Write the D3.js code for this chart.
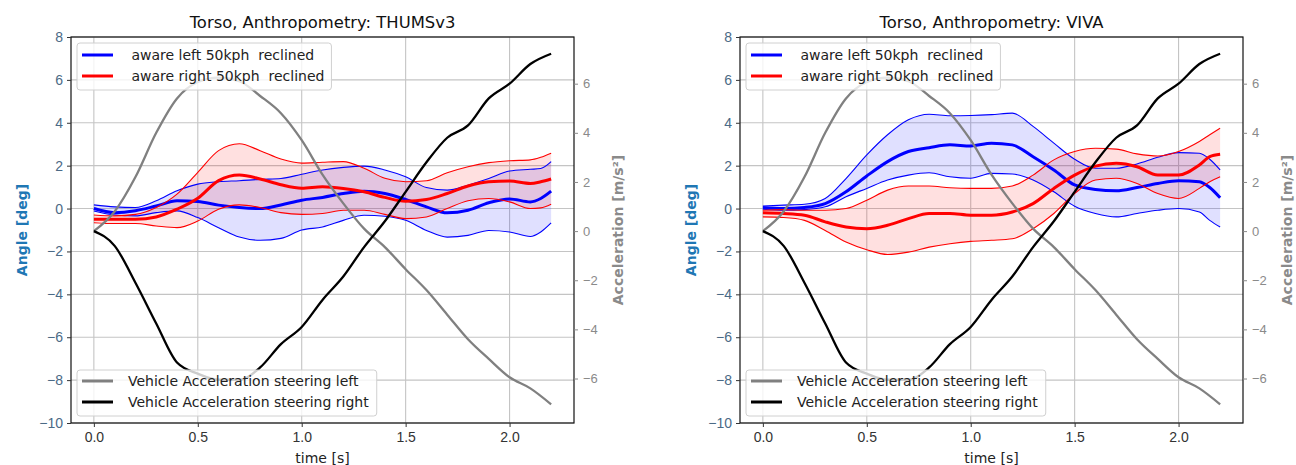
<!DOCTYPE html>
<html>
<head>
<meta charset="utf-8">
<script src="https://cdn.jsdelivr.net/npm/d3@7"></script>
<style>
  body { margin: 0; background: #fff; }
  svg { font-family: "DejaVu Sans", sans-serif; }
</style>
</head>
<body>
<svg width="1296" height="465"></svg>
<script>
// time base of the angle curves [s]
const time = [0, 0.1, 0.2, 0.3, 0.4, 0.5, 0.6, 0.7, 0.8, 0.9, 1.0, 1.1, 1.2, 1.3, 1.4, 1.5, 1.6, 1.7, 1.8, 1.9, 2.0, 2.1, 2.15, 2.2];

// THUMSv3 torso angle [deg]
const thumsLeftMean  = [0.0, -0.19, -0.1, 0.12, 0.36, 0.33, 0.16, 0.05, 0.0, 0.17, 0.39, 0.52, 0.7, 0.81, 0.7, 0.42, 0.08, -0.2, -0.08, 0.27, 0.45, 0.31, 0.47, 0.81];
const thumsLeftUp    = [0.17, 0.08, 0.05, 0.36, 0.83, 1.14, 1.25, 1.3, 1.36, 1.4, 1.6, 1.8, 1.92, 1.98, 1.8, 1.48, 0.98, 0.86, 1.09, 1.4, 1.75, 1.83, 1.87, 2.19];
const thumsLeftLo    = [-0.11, -0.3, -0.34, -0.19, -0.11, -0.42, -0.89, -1.33, -1.48, -1.39, -1.0, -0.86, -0.55, -0.31, -0.36, -0.55, -1.02, -1.33, -1.25, -1.02, -1.09, -1.3, -1.09, -0.67];
const thumsRightMean = [-0.5, -0.5, -0.5, -0.39, -0.03, 0.48, 1.3, 1.56, 1.38, 1.11, 0.95, 1.02, 0.94, 0.78, 0.52, 0.34, 0.42, 0.7, 1.05, 1.25, 1.28, 1.17, 1.25, 1.38];
const thumsRightUp   = [-0.3, -0.34, -0.27, 0.05, 0.67, 1.69, 2.7, 3.02, 2.7, 2.31, 2.12, 2.16, 2.19, 1.88, 1.41, 1.25, 1.3, 1.67, 1.95, 2.14, 2.23, 2.27, 2.39, 2.58];
const thumsRightLo   = [-0.66, -0.7, -0.7, -0.81, -0.89, -0.58, -0.03, 0.17, 0.05, -0.19, -0.27, -0.23, -0.08, -0.08, -0.27, -0.47, -0.39, 0.0, 0.36, 0.47, 0.31, 0.0, 0.03, 0.2];

// VIVA torso angle [deg]
const vivaLeftMean  = [0.05, 0.0, 0.05, 0.23, 0.78, 1.52, 2.19, 2.66, 2.84, 2.97, 2.92, 3.05, 2.97, 2.42, 1.8, 1.1, 0.89, 0.83, 0.98, 1.17, 1.3, 1.25, 0.98, 0.5];
const vivaLeftUp    = [0.12, 0.16, 0.2, 0.47, 1.4, 2.5, 3.44, 4.14, 4.4, 4.33, 4.34, 4.38, 4.45, 3.83, 3.05, 2.3, 1.88, 1.88, 2.08, 2.39, 2.61, 2.58, 2.3, 1.8];
const vivaLeftLo    = [-0.03, -0.08, -0.05, 0.08, 0.55, 0.94, 1.33, 1.56, 1.67, 1.48, 1.41, 1.64, 1.61, 1.33, 0.78, 0.11, -0.23, -0.39, -0.23, -0.08, 0.0, -0.16, -0.55, -0.86];
const vivaRightMean = [-0.2, -0.23, -0.31, -0.62, -0.86, -0.94, -0.78, -0.47, -0.23, -0.23, -0.31, -0.31, -0.16, 0.23, 0.94, 1.56, 1.98, 2.11, 1.95, 1.56, 1.56, 2.03, 2.42, 2.53];
const vivaRightUp   = [-0.08, -0.05, -0.08, -0.08, 0.0, 0.39, 0.86, 1.05, 1.05, 0.97, 0.94, 0.94, 1.05, 1.56, 2.27, 2.66, 2.81, 2.77, 2.55, 2.45, 2.66, 3.13, 3.44, 3.75];
const vivaRightLo   = [-0.39, -0.42, -0.55, -1.02, -1.56, -1.92, -2.14, -2.03, -1.8, -1.64, -1.53, -1.48, -1.41, -0.94, -0.23, 0.7, 1.33, 1.41, 1.17, 0.7, 0.47, 0.94, 1.25, 1.48];

// vehicle acceleration [m/s^2]
const accTime  = [0, 0.1, 0.2, 0.3, 0.4, 0.5, 0.6, 0.7, 0.8, 0.9, 1.0, 1.1, 1.2, 1.3, 1.4, 1.5, 1.6, 1.7, 1.8, 1.9, 2.0, 2.1, 2.2];
const accLeft  = [0, 0.8, 2.2, 4.0, 5.4, 6.07, 6.25, 6.1, 5.5, 4.8, 3.7, 2.3, 1.13, 0.1, -0.65, -1.55, -2.4, -3.4, -4.4, -5.2, -5.95, -6.4, -7.05];
const accRight = [0, -0.6, -2.1, -3.76, -5.35, -5.8, -6.05, -6.05, -5.55, -4.6, -3.9, -2.8, -1.85, -0.65, 0.4, 1.6, 2.8, 3.8, 4.3, 5.4, 6.0, 6.8, 7.22];

// ticks
const timeTicks  = [0, 0.5, 1.0, 1.5, 2.0];
const angleTicks = [8, 6, 4, 2, 0, -2, -4, -6, -8, -10];
const accTicks   = [6, 4, 2, 0, -2, -4, -6];

const angleLegend = [' aware left 50kph  reclined', ' aware right 50kph  reclined'];
const accLegend = ['Vehicle Acceleration steering left', 'Vehicle Acceleration steering right'];

let svg = d3.select('svg');

let plotTop = 37;
let plotWidth = 503;
let plotHeight = 386;

let xScale = d3.scaleLinear().domain([-0.11, 2.31]).range([0, plotWidth]);
let yScale = d3.scaleLinear().domain([-10, 8]).range([plotHeight, 0]);
let y2Scale = d3.scaleLinear().domain([-7.81, 7.9]).range([plotHeight, 0]);

function drawPanel(left, title, blueMean, blueUp, blueLo, redMean, redUp, redLo, clipId) {
  let g = svg.append('g').attr('transform', `translate(${left},${plotTop})`);

  svg.append('clipPath').attr('id', clipId)
    .append('rect').attr('width', plotWidth).attr('height', plotHeight);

  // grid
  g.append('g').selectAll('line.gx').data(timeTicks).enter().append('line')
    .attr('x1', d => xScale(d)).attr('x2', d => xScale(d))
    .attr('y1', 0).attr('y2', plotHeight)
    .attr('stroke', '#c4c4c4').attr('stroke-width', 1.1);
  g.append('g').selectAll('line.gy').data(angleTicks).enter().append('line')
    .attr('x1', 0).attr('x2', plotWidth)
    .attr('y1', d => yScale(d)).attr('y2', d => yScale(d))
    .attr('stroke', '#c4c4c4').attr('stroke-width', 1.1);

  let body = g.append('g').attr('clip-path', `url(#${clipId})`);

  let area = (lo, up) => d3.area()
    .x((d, i) => xScale(time[i]))
    .y0((d, i) => yScale(lo[i]))
    .y1((d, i) => yScale(up[i]))
    .curve(d3.curveMonotoneX)(time);
  let line = vals => d3.line()
    .x((d, i) => xScale(time[i]))
    .y(d => yScale(d))
    .curve(d3.curveMonotoneX)(vals);

  body.append('path').attr('d', area(blueLo, blueUp)).attr('fill', 'blue').attr('fill-opacity', 0.12);
  body.append('path').attr('d', area(redLo, redUp)).attr('fill', 'red').attr('fill-opacity', 0.12);

  [[blueUp, 'blue', 1.1], [blueLo, 'blue', 1.1], [blueMean, 'blue', 3],
   [redUp, 'red', 1.1], [redLo, 'red', 1.1], [redMean, 'red', 3]].forEach(([vals, c, w]) => {
    body.append('path').attr('d', line(vals))
      .attr('fill', 'none').attr('stroke', c).attr('stroke-width', w);
  });

  // legend for angle curves
  let leg1 = g.append('g').attr('transform', 'translate(6,6)');
  let box1 = leg1.append('rect').attr('rx', 3).attr('ry', 3)
    .attr('fill', 'white').attr('fill-opacity', 0.8)
    .attr('stroke', '#d0d0d0').attr('stroke-width', 1);
  let w1 = 0;
  angleLegend.forEach((lab, i) => {
    let yy = 12 + i * 21;
    leg1.append('line').attr('x1', 5).attr('x2', 36).attr('y1', yy).attr('y2', yy)
      .attr('stroke', i === 0 ? 'blue' : 'red').attr('stroke-width', 3);
    let t = leg1.append('text').attr('x', 50).attr('y', yy).attr('dy', '0.35em')
      .style('white-space', 'pre').attr('font-size', 14).attr('fill', '#222').text(lab);
    w1 = Math.max(w1, 50 + t.node().getComputedTextLength());
  });
  box1.attr('width', w1 + 7).attr('height', 47);

  // acceleration curves on the twin axis
  let accLine = vals => d3.line()
    .x((d, i) => xScale(accTime[i]))
    .y(d => y2Scale(d))
    .curve(d3.curveMonotoneX)(vals);
  body.append('path').attr('d', accLine(accLeft))
    .attr('fill', 'none').attr('stroke', 'grey').attr('stroke-width', 2.3);
  body.append('path').attr('d', accLine(accRight))
    .attr('fill', 'none').attr('stroke', 'black').attr('stroke-width', 2.3);

  // legend for acceleration
  let leg2 = g.append('g').attr('transform', `translate(6,${plotHeight - 53})`);
  let box2 = leg2.append('rect').attr('rx', 3).attr('ry', 3)
    .attr('fill', 'white').attr('fill-opacity', 0.8)
    .attr('stroke', '#d0d0d0').attr('stroke-width', 1);
  let w2 = 0;
  accLegend.forEach((lab, i) => {
    let yy = 11 + i * 21;
    leg2.append('line').attr('x1', 5).attr('x2', 36).attr('y1', yy).attr('y2', yy)
      .attr('stroke', i === 0 ? 'grey' : 'black').attr('stroke-width', 3);
    let t = leg2.append('text').attr('x', 51).attr('y', yy).attr('dy', '0.35em')
      .attr('font-size', 14).attr('fill', '#222').text(lab);
    w2 = Math.max(w2, 51 + t.node().getComputedTextLength());
  });
  box2.attr('width', w2 + 8).attr('height', 46);

  // spines
  g.append('rect').attr('width', plotWidth).attr('height', plotHeight)
    .attr('fill', 'none').attr('stroke', '#111').attr('stroke-width', 1.2);

  // axes
  let xAxis = g.append('g').attr('transform', `translate(0,${plotHeight})`)
    .call(d3.axisBottom(xScale).tickValues(timeTicks).tickFormat(d3.format('.1f')).tickSize(4).tickPadding(5));
  xAxis.select('.domain').remove();
  xAxis.selectAll('text').attr('font-size', 14).attr('fill', '#333');
  xAxis.selectAll('line').attr('stroke', '#333');

  let yAxis = g.append('g')
    .call(d3.axisLeft(yScale).tickValues(angleTicks).tickFormat(d3.format('d')).tickSize(4).tickPadding(4));
  yAxis.select('.domain').remove();
  yAxis.selectAll('text').attr('font-size', 14).attr('fill', '#4b6a86');
  yAxis.selectAll('line').attr('stroke', '#333');

  let y2Axis = g.append('g').attr('transform', `translate(${plotWidth},0)`)
    .call(d3.axisRight(y2Scale).tickValues(accTicks).tickFormat(d3.format('d')).tickSize(4).tickPadding(5));
  y2Axis.select('.domain').remove();
  y2Axis.selectAll('text').attr('font-size', 13).attr('fill', '#8a8a8a');
  y2Axis.selectAll('line').attr('stroke', '#8a8a8a');

  // labels
  g.append('text').attr('x', plotWidth / 2).attr('y', -9).attr('text-anchor', 'middle')
    .attr('font-size', 16.4).attr('fill', '#111').text(title);
  g.append('text').attr('x', plotWidth / 2).attr('y', plotHeight + 40).attr('text-anchor', 'middle')
    .attr('font-size', 14).attr('fill', '#222').text('time [s]');
  g.append('text').attr('transform', `translate(${-49},${plotHeight / 2}) rotate(-90)`)
    .attr('text-anchor', 'middle').attr('dy', '0.35em').attr('font-size', 14).attr('font-weight', 'bold')
    .attr('fill', '#1f77b4').text('Angle [deg]');
  g.append('text').attr('transform', `translate(${plotWidth + 44},${plotHeight / 2}) rotate(-90)`)
    .attr('text-anchor', 'middle').attr('dy', '0.35em').attr('font-size', 14).attr('font-weight', 'bold')
    .attr('fill', '#8a8a8a').text('Acceleration [m/s²]');
}

drawPanel(71, 'Torso, Anthropometry: THUMSv3',
  thumsLeftMean, thumsLeftUp, thumsLeftLo, thumsRightMean, thumsRightUp, thumsRightLo, 'clipA');
drawPanel(740, 'Torso, Anthropometry: VIVA',
  vivaLeftMean, vivaLeftUp, vivaLeftLo, vivaRightMean, vivaRightUp, vivaRightLo, 'clipB');
</script>
</body>
</html>
